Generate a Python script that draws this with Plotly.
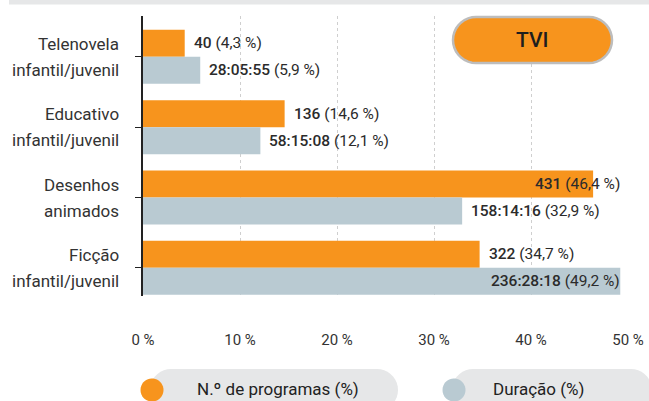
import numpy as np
import plotly.graph_objects as go

# ---- data ----
categories = ["Telenovela infantil/juvenil", "Educativo infantil/juvenil",
              "Desenhos animados", "Ficção infantil/juvenil"]
cat_line1 = ["Telenovela", "Educativo", "Desenhos", "Ficção"]
cat_line2 = ["infantil/juvenil", "infantil/juvenil", "animados", "infantil/juvenil"]
n_programs = [40, 136, 431, 322]
pct_programs = [4.3, 14.6, 46.4, 34.7]
duration = ["28:05:55", "58:15:08", "158:14:16", "236:28:18"]
pct_duration = [5.9, 12.1, 32.9, 49.2]
x_ticks = [0, 10, 20, 30, 40, 50]
x_ticklabels = ["0 %", "10 %", "20 %", "30 %", "40 %", "50 %"]
legend_names = ["N.º de programas (%)", "Duração (%)"]
channel = "TVI"

ORANGE = "#F7941D"
GREYBLUE = "#B9CAD2"
PILL = "#E6E7E8"
TXT = "#2b2b2b"
FONT = "Roboto, 'Liberation Sans', sans-serif"

W, H = 649, 401
L, R, T, B = 143, 20, 16, 105
PW, PH = W - L - R, H - T - B
XMAX = 50.1


def px(x):
    return (x - L) / PW


def py(y):
    return (H - B - y) / PH


def stadium(x0, x1, y0, y1, r=None):
    if r is None:
        r = (y1 - y0) / 2
    pts = []
    cy_top, cy_bot = y0 + r, y1 - r
    for a in np.linspace(-np.pi / 2, 0, 10):
        pts.append((x1 - r + r * np.cos(a), cy_top + r * np.sin(a)))
    for a in np.linspace(0, np.pi / 2, 10):
        pts.append((x1 - r + r * np.cos(a), cy_bot + r * np.sin(a)))
    for a in np.linspace(np.pi / 2, np.pi, 10):
        pts.append((x0 + r + r * np.cos(a), cy_bot + r * np.sin(a)))
    for a in np.linspace(np.pi, 1.5 * np.pi, 10):
        pts.append((x0 + r + r * np.cos(a), cy_top + r * np.sin(a)))
    return "M " + " L ".join(f"{px(x):.5f},{py(y):.5f}" for x, y in pts) + " Z"


def circle(cx, cy, r):
    pts = [(cx + r * np.cos(a), cy + r * np.sin(a)) for a in np.linspace(0, 2 * np.pi, 40)]
    return "M " + " L ".join(f"{px(x):.5f},{py(y):.5f}" for x, y in pts) + " Z"


fig = go.Figure()
fig.add_trace(go.Bar(y=categories, x=pct_programs, orientation="h",
                     marker=dict(color=ORANGE, line=dict(width=0)),
                     name=legend_names[0], hoverinfo="skip"))
fig.add_trace(go.Bar(y=categories, x=pct_duration, orientation="h",
                     marker=dict(color=GREYBLUE, line=dict(width=0)),
                     name=legend_names[1], hoverinfo="skip"))

annotations = []
for c, l1, l2 in zip(categories, cat_line1, cat_line2):
    for txt, ys in ((l1, 13), (l2, -13)):
        annotations.append(dict(x=0, xref="paper", y=c, yref="y", text=txt,
                                xanchor="right", yanchor="middle", xshift=-22, yshift=ys,
                                showarrow=False, font=dict(family=FONT, size=17, color="#333")))


def add_label(cat, val, main, pct, ys):
    txt = f"<span style='font-weight:500'>{main}</span> ({pct:.1f} %)".replace(".", ",")
    plain = f"{main} ({pct:.1f} %)"
    est_w = len(plain) * 7.0
    end_px = L + val / XMAX * PW + 8 + est_w
    if end_px > L + PW - 6:
        annotations.append(dict(x=1, xref="paper", y=cat, yref="y", text=txt,
                                xanchor="right", yanchor="middle", xshift=-7, yshift=ys,
                                showarrow=False, font=dict(family=FONT, size=15.5, color=TXT)))
    else:
        annotations.append(dict(x=val, xref="x", y=cat, yref="y", text=txt,
                                xanchor="left", yanchor="middle", xshift=7, yshift=ys,
                                showarrow=False, font=dict(family=FONT, size=15.5, color=TXT)))


for c, n, p in zip(categories, n_programs, pct_programs):
    add_label(c, p, str(n), p, 13.5)
for c, d, p in zip(categories, duration, pct_duration):
    add_label(c, p, d, p, -13.5)

annotations.append(dict(x=px(532), y=py(40), xref="paper", yref="paper",
                        text=f"<span style='font-weight:500'>{channel}</span>",
                        showarrow=False, xanchor="center", yanchor="middle",
                        font=dict(family=FONT, size=21, color="#1e1e1e")))
annotations.append(dict(x=px(278), y=py(389), xref="paper", yref="paper", text=legend_names[0],
                        showarrow=False, xanchor="center", yanchor="middle",
                        font=dict(family=FONT, size=17, color="#222")))
annotations.append(dict(x=px(538), y=py(389), xref="paper", yref="paper", text=legend_names[1],
                        showarrow=False, xanchor="center", yanchor="middle",
                        font=dict(family=FONT, size=17, color="#222")))

shapes = [
    dict(type="rect", xref="paper", yref="paper", x0=px(9), x1=px(W + 2), y0=py(4.5), y1=py(-2),
         fillcolor=PILL, line=dict(width=0), layer="below"),
    dict(type="path", xref="paper", yref="paper", path=stadium(453, 612, 17, 63),
         fillcolor=ORANGE, line=dict(color="#BDBDBD", width=2.5), layer="above"),
    dict(type="path", xref="paper", yref="paper", path=stadium(150, 398, 369, 411),
         fillcolor=PILL, line=dict(width=0), layer="above"),
    dict(type="path", xref="paper", yref="paper", path=stadium(452, 652, 369, 411),
         fillcolor=PILL, line=dict(width=0), layer="above"),
    dict(type="path", xref="paper", yref="paper", path=circle(152, 390, 11.5),
         fillcolor=ORANGE, line=dict(width=0), layer="above"),
    dict(type="path", xref="paper", yref="paper", path=circle(454, 390, 11.5),
         fillcolor=GREYBLUE, line=dict(width=0), layer="above"),
]

fig.update_layout(
    width=W, height=H,
    margin=dict(l=L, r=R, t=T, b=B, pad=0, autoexpand=False),
    paper_bgcolor="white", plot_bgcolor="white",
    barmode="group", bargap=0.232, bargroupgap=0,
    showlegend=False,
    annotations=annotations, shapes=shapes,
    font=dict(family=FONT, color=TXT),
)
fig.update_xaxes(range=[0, XMAX], tickvals=x_ticks, ticktext=x_ticklabels,
                 showgrid=True, gridcolor="#CFCFCF", griddash="dot", gridwidth=1,
                 zeroline=False, showline=False, ticks="", ticklabelstandoff=33,
                 automargin=False,
                 tickfont=dict(family=FONT, size=15, color="#333"), fixedrange=True)
fig.update_yaxes(categoryorder="array", categoryarray=categories,
                 range=[3.4, -0.58], showticklabels=False, automargin=False,
                 showline=True, linecolor="#222", linewidth=1.5,
                 ticks="outside", ticklen=6, tickcolor="#222", tickwidth=1.2,
                 showgrid=False, zeroline=False, fixedrange=True)

fig.write_html("out.html",
               post_script="document.body.style.margin='0px';document.body.style.overflow='hidden';",
               config={"displayModeBar": False})
